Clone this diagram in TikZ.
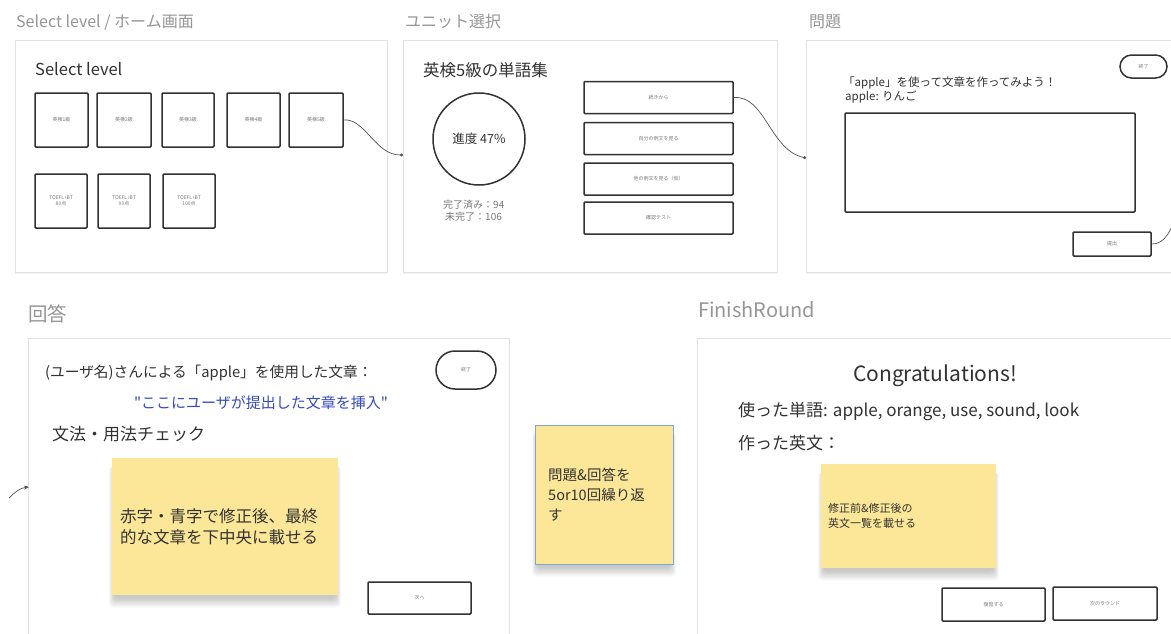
\documentclass[tikz,border=0pt]{standalone}
\usepackage{fontspec}
\setmainfont{Noto Sans CJK JP}
\usetikzlibrary{shadows,arrows.meta,calc}
\definecolor{titlegray}{RGB}{150,150,150}
\definecolor{ink}{RGB}{50,50,50}
\definecolor{sticky}{RGB}{252,231,152}
\definecolor{bluetxt}{RGB}{55,75,190}
\definecolor{framegray}{RGB}{226,226,226}
\definecolor{smalltxt}{RGB}{120,120,120}
\definecolor{noteblue}{RGB}{120,170,215}
\pgfdeclarelayer{framelayer}
\pgfdeclarelayer{shadowlayer}
\pgfsetlayers{framelayer,shadowlayer,main}
\newcommand{\softshadow}[1]{%
  \begin{pgfonlayer}{shadowlayer}
  \foreach \k in {1,...,8}{%
    \fill[black, opacity=0.028, rounded corners=4pt]
      ($(#1.north west)+(3-\k*0.7,8)$) rectangle ($(#1.south east)+(-3+\k*0.7,2+\k*1.3)$);
  }
  \end{pgfonlayer}}
\begin{document}
\begin{tikzpicture}[x=1pt,y=-1pt,
  fs/.style={font=\fontsize{#1}{#1}\selectfont},
  frame/.style={draw=framegray, line width=0.8pt, fill=white, inner sep=0,
    drop shadow={opacity=0.10, shadow xshift=0pt, shadow yshift=-1.5pt}},
  wire/.style={draw=ink, line width=1.5pt, fill=white, rounded corners=1pt, inner sep=0,
    font=\fontsize{5}{6}\selectfont, text=smalltxt, align=center},
  pill/.style={wire, rounded corners=#1},
  txt/.style={anchor=base west, inner sep=0},
  ptitle/.style={txt, text=titlegray},
  note/.style={fill=sticky, inner sep=0},
  conn/.style={draw=ink!85, line width=0.7pt},
]
\useasboundingbox (0,0) rectangle (1171,633);
\clip (0,0) rectangle (1171,633);

% ---------- frames (background layer) ----------
\begin{pgfonlayer}{framelayer}
\fill[white] (0,0) rectangle (1171,633);
\node[frame, minimum width=372, minimum height=232] (f1) at (201,156) {};
\node[frame, minimum width=374, minimum height=232] (f2) at (590,156) {};
\node[frame, minimum width=380, minimum height=232] (f3) at (996,156) {};
\node[frame, minimum width=481, minimum height=312] (f4) at (268.5,494) {};
\node[frame, minimum width=488, minimum height=312] (f5) at (941,494) {};
\end{pgfonlayer}

% ---------- titles ----------
\node[ptitle, fs=16] (t1) at (16,27) {Select level / ホーム画面};
\node[ptitle, fs=16] (t2) at (405,27) {ユニット選択};
\node[ptitle, fs=16] (t3) at (809,27) {問題};
\node[ptitle, fs=19.5] (t4) at (28,321) {回答};
\node[ptitle, fs=20] (t5) at (698,317) {FinishRound};

% ---------- frame 1 : select level ----------
\node[txt, fs=16.5, text=ink] (sl) at (35,75) {Select level};
\node[wire, minimum width=53, minimum height=54] (b1) at (61.5,120) {英検1級};
\node[wire, minimum width=54, minimum height=54] (b2) at (124,120) {英検2級};
\node[wire, minimum width=52, minimum height=54] (b3) at (188,120) {英検3級};
\node[wire, minimum width=53, minimum height=54] (b4) at (253.5,120) {英検4級};
\node[wire, minimum width=54, minimum height=54] (b5) at (316,120) {英検5級};
\node[wire, minimum width=52, minimum height=54] (b6) at (61,201) {TOEFL iBT\\80点};
\node[wire, minimum width=52, minimum height=54] (b7) at (124,201) {TOEFL iBT\\90点};
\node[wire, minimum width=52, minimum height=54] (b8) at (189,201) {TOEFL iBT\\100点};

% ---------- frame 2 : unit ----------
\node[txt, fs=16.5, text=ink] (ut) at (423,76) {英検5級の単語集};
\node[circle, draw=ink, line width=1.5pt, minimum size=92, inner sep=0, fs=12.5, text=ink] (prog) at (479,139) {進度 47\%};
\node[txt, fs=10, text=smalltxt] (done) at (443,208) {完了済み：94};
\node[txt, fs=10, text=smalltxt] (todo) at (445,220) {未完了：106};
\node[wire, minimum width=149, minimum height=32] (u1) at (658.5,97.5) {続きから};
\node[wire, minimum width=149, minimum height=32] (u2) at (658.5,138.5) {自分の例文を見る};
\node[wire, minimum width=149, minimum height=32] (u3) at (658.5,179) {他の例文を見る（仮）};
\node[wire, minimum width=149, minimum height=32] (u4) at (658.5,218) {確認テスト};

% ---------- frame 3 : question ----------
\node[txt, fs=11.5, text=ink] (q1) at (843,86) {「apple」を使って文章を作ってみよう！};
\node[txt, fs=11.5, text=ink] (q2) at (845,100) {apple: りんご};
\node[pill=11.5, minimum width=47, minimum height=23] (qend) at (1143.5,66.5) {終了};
\node[wire, minimum width=290, minimum height=99] (qbox) at (990,162.5) {};
\node[wire, minimum width=78, minimum height=24] (qsub) at (1112,244) {提出};

% ---------- frame 4 : answer ----------
\node[txt, fs=14.7, text=ink] (a1) at (45,377) {(ユーザ名)さんによる「apple」を使用した文章：};
\node[pill=19, minimum width=60, minimum height=38] (aend) at (466,370) {終了};
\node[anchor=base, inner sep=0, fs=15, text=bluetxt] (a2) at (261,408) {\textquotedbl ここにユーザが提出した文章を挿入\textquotedbl};
\node[txt, fs=17, text=ink] (a3) at (52,440) {文法・用法チェック};
\node[note, minimum width=226, minimum height=137] (an) at (225,526.5) {};
\softshadow{an}
\node[txt, fs=16.5, text=ink] (an1) at (120,522) {赤字・青字で修正後、最終};
\node[txt, fs=16.5, text=ink] (an2) at (120,543) {的な文章を下中央に載せる};
\node[wire, minimum width=103, minimum height=32] (anext) at (419.5,598) {次へ};

% ---------- middle note ----------
\node[note, draw=noteblue, line width=0.6pt, minimum width=138, minimum height=139] (mn) at (604,494.5) {};
\softshadow{mn}
\node[txt, fs=14.5, text=ink] (m1) at (548,480) {問題\&回答を};
\node[txt, fs=14.5, text=ink] (m2) at (548,500) {5or10回繰り返};
\node[txt, fs=14.5, text=ink] (m3) at (548,520) {す};

% ---------- frame 5 : finish ----------
\node[anchor=base, inner sep=0, fs=21, text=ink] (cg) at (935,381) {Congratulations!};
\node[txt, fs=17, text=ink] (w1) at (738,416) {使った単語: apple, orange, use, sound, look};
\node[txt, fs=17, text=ink] (w2) at (738,449) {作った英文：};
\node[note, minimum width=175, minimum height=104] (fn) at (908.5,516) {};
\softshadow{fn}
\node[txt, fs=11, text=ink] (fn1) at (828,512) {修正前\&修正後の};
\node[txt, fs=11, text=ink] (fn2) at (828,527) {英文一覧を載せる};
\node[wire, minimum width=103, minimum height=33] (rev) at (993.5,604.5) {復習する};
\node[wire, minimum width=104, minimum height=33] (nxt) at (1105,603.5) {次のラウンド};

% ---------- connectors ----------
\coordinate (f2in) at (403,155);
\coordinate (f3in) at (806,158);
\coordinate (qout) at (1178,212);
\coordinate (a0) at (9,498);
\coordinate (f4in) at (29,487);
\draw[conn, -{Circle[length=3pt]}] (b5.east) .. controls (365,118) and (375,155) .. (f2in);
\draw[conn, -{Circle[length=3pt]}] (u1.east) .. controls (765,95) and (770,150) .. (f3in);
\draw[conn] (qsub.east) .. controls (1165,244) and (1170,232) .. (qout);
\draw[conn, -{Stealth[length=5pt,width=4pt]}] (a0) .. controls (15,492) and (20,488) .. (f4in);
\end{tikzpicture}
\end{document}
